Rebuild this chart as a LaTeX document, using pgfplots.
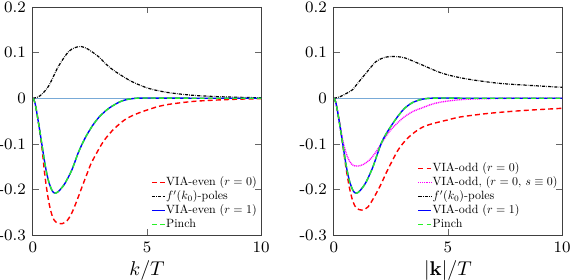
\documentclass[border=0pt]{standalone}
\usepackage{graphicx}
\usepackage{pgfplots}
\pgfplotsset{compat=1.18}
\definecolor{zeroblue}{RGB}{120,170,215}
\definecolor{myred}{RGB}{255,0,0}
\definecolor{mygreen}{RGB}{40,240,40}
\definecolor{myblue}{RGB}{0,0,255}
\definecolor{mymag}{RGB}{255,0,255}
\newcommand{\legtxt}[1]{\scalebox{0.6}{\fontsize{10}{12}\selectfont #1}}
\pgfplotsset{
  myaxis/.style={
    scale only axis, width=114.5pt, height=114.5pt,
    xmin=0, xmax=10, ymin=-0.3, ymax=0.2,
    xtick={0,5,10}, ytick={-0.3,-0.2,-0.1,0,0.1,0.2},
    yticklabels={-0.3,-0.2,-0.1,0,0.1,0.2},
    xticklabels={0,5,10},
    tick align=inside, tick pos=both, major tick length=3pt,
    axis line style={black!75, line width=0.4pt},
    tick style={black!60, line width=0.4pt},
    ticklabel style={font=\fontsize{8}{9}\selectfont},
    label style={font=\fontsize{10}{11}\selectfont},
    xlabel style={yshift=3pt},
    legend cell align=left,
    legend style={draw=none, fill=none,
      at={(rel axis cs:0.985,0.015)}, anchor=south east, inner sep=0pt,
      nodes={inner sep=0.3pt, text height=4.6pt, text depth=1.6pt},
      row sep=0.2pt, column sep=0pt},
    legend image code/.code={\draw[#1] (0pt,0pt) -- (6.5pt,0pt);},
  },
  redd/.style={color=myred, line width=0.7pt, dash pattern=on 2.5pt off 1.6pt},
  blkd/.style={color=black, line width=0.6pt, dash pattern=on 1.6pt off 0.6pt on 0.3pt off 0.6pt},
  blus/.style={color=myblue, line width=0.7pt, solid},
  grnd/.style={color=mygreen, line width=0.7pt, dash pattern=on 2.5pt off 1.6pt},
  magd/.style={color=mymag, line width=0.7pt, dash pattern=on 0.5pt off 0.4pt},
}
\begin{document}
\begin{tikzpicture}
\path[use as bounding box] (-16.5pt,-22pt) rectangle (270pt,118pt);
\begin{axis}[myaxis, xlabel={$k/T$}]
\addplot[color=zeroblue, line width=0.5pt, forget plot] coordinates {(0,0) (10,0)};
\addplot[redd, smooth] coordinates {
(0,0) (0.1,-0.012) (0.25,-0.055) (0.4,-0.11) (0.54,-0.175) (0.7,-0.228) (0.85,-0.258) (1.0,-0.271) (1.27,-0.275) (1.5,-0.268) (1.7,-0.252) (1.9,-0.228) (2.14,-0.196) (2.4,-0.162) (2.58,-0.14) (3.01,-0.101) (3.3,-0.081) (3.6,-0.065) (4.0,-0.048) (4.32,-0.039) (4.7,-0.031) (5.05,-0.025) (5.5,-0.018) (6,-0.013) (7,-0.007) (8,-0.004) (9,-0.002) (10,-0.001)};
\addlegendentry{\legtxt{VIA-even ($r=0$)}}
\addplot[blkd, smooth] coordinates {
(0,0) (0.3,0.005) (0.68,0.026) (1.12,0.07) (1.56,0.102) (1.85,0.111) (2.11,0.1134) (2.4,0.108) (2.87,0.0915) (3.2,0.075) (3.6,0.059) (4.32,0.037) (5.05,0.022) (5.78,0.0137) (6.5,0.009) (7.23,0.0057) (8.4,0.003) (10,0.001)};
\addlegendentry{\legtxt{$f'(k_0)$-poles}}
\addplot[blus, smooth] coordinates {
(0,0) (0.1,-0.012) (0.25,-0.055) (0.4,-0.103) (0.55,-0.150) (0.7,-0.184) (0.85,-0.203) (0.97,-0.208) (1.1,-0.205) (1.25,-0.197) (1.41,-0.186) (1.7,-0.158) (2.0,-0.118) (2.29,-0.087) (2.6,-0.061) (2.87,-0.043) (3.2,-0.027) (3.45,-0.018) (3.8,-0.008) (4.1,-0.003) (4.5,0) (5,0.0005) (6,0.0003) (8,0) (10,0)};
\addlegendentry{\legtxt{VIA-even ($r=1$)}}
\addplot[grnd, smooth] coordinates {
(0,0) (0.1,-0.012) (0.25,-0.055) (0.4,-0.103) (0.55,-0.150) (0.7,-0.184) (0.85,-0.203) (0.97,-0.208) (1.1,-0.205) (1.25,-0.197) (1.41,-0.186) (1.7,-0.158) (2.0,-0.118) (2.29,-0.087) (2.6,-0.061) (2.87,-0.043) (3.2,-0.027) (3.45,-0.018) (3.8,-0.008) (4.1,-0.003) (4.5,0) (5,0.0005) (6,0.0003) (8,0) (10,0)};
\addlegendentry{\legtxt{Pinch}}
\end{axis}
\begin{axis}[myaxis, xshift=151pt, xlabel={$|\mathbf{k}|/T$}]
\addplot[color=zeroblue, line width=0.5pt, forget plot] coordinates {(0,0) (10,0)};
\addplot[redd, smooth] coordinates {
(0,0) (0.1,-0.012) (0.25,-0.055) (0.4,-0.105) (0.54,-0.155) (0.7,-0.200) (0.85,-0.228) (1.0,-0.241) (1.23,-0.245) (1.5,-0.238) (1.84,-0.210) (2.1,-0.185) (2.28,-0.165) (2.6,-0.133) (2.86,-0.110) (3.2,-0.089) (3.58,-0.073) (3.9,-0.063) (4.3,-0.056) (5.03,-0.047) (5.54,-0.041) (6.8,-0.033) (8.26,-0.027) (10,-0.022)};
\addlegendentry{\legtxt{VIA-odd ($r=0$)}}
\addplot[magd, smooth] coordinates {
(0,0) (0.1,-0.012) (0.25,-0.052) (0.39,-0.092) (0.55,-0.122) (0.7,-0.139) (0.85,-0.147) (1.04,-0.1486) (1.25,-0.146) (1.55,-0.136) (1.8,-0.121) (2.06,-0.101) (2.3,-0.082) (2.57,-0.065) (2.85,-0.051) (3.14,-0.039) (3.5,-0.028) (3.87,-0.021) (4.3,-0.013) (4.74,-0.008) (5.54,-0.003) (6.5,-0.001) (8,0) (10,0)};
\addlegendentry{\legtxt{VIA-odd, ($r=0$, $s\equiv 0$)}}
\addplot[blkd, smooth] coordinates {
(0,0) (0.3,0.004) (0.83,0.019) (1.0,0.03) (1.41,0.055) (1.84,0.08) (2.2,0.089) (2.49,0.0915) (2.8,0.091) (3.14,0.088) (3.87,0.073) (4.74,0.055) (5.75,0.043) (7.2,0.033) (8.65,0.028) (10,0.024)};
\addlegendentry{\legtxt{$f'(k_0)$-poles}}
\addplot[blus, smooth] coordinates {
(0,0) (0.1,-0.012) (0.25,-0.055) (0.4,-0.103) (0.55,-0.150) (0.7,-0.184) (0.85,-0.203) (0.97,-0.208) (1.1,-0.205) (1.25,-0.196) (1.41,-0.184) (1.7,-0.152) (2.06,-0.101) (2.28,-0.079) (2.6,-0.054) (2.86,-0.036) (3.1,-0.022) (3.43,-0.010) (3.8,-0.003) (4.2,0) (5,0.0005) (6,0) (10,0)};
\addlegendentry{\legtxt{VIA-odd ($r=1$)}}
\addplot[grnd, smooth] coordinates {
(0,0) (0.1,-0.012) (0.25,-0.055) (0.4,-0.103) (0.55,-0.150) (0.7,-0.184) (0.85,-0.203) (0.97,-0.208) (1.1,-0.205) (1.25,-0.196) (1.41,-0.184) (1.7,-0.152) (2.06,-0.101) (2.28,-0.079) (2.6,-0.054) (2.86,-0.036) (3.1,-0.022) (3.43,-0.010) (3.8,-0.003) (4.2,0) (5,0.0005) (6,0) (10,0)};
\addlegendentry{\legtxt{Pinch}}
\end{axis}
\end{tikzpicture}
\end{document}
